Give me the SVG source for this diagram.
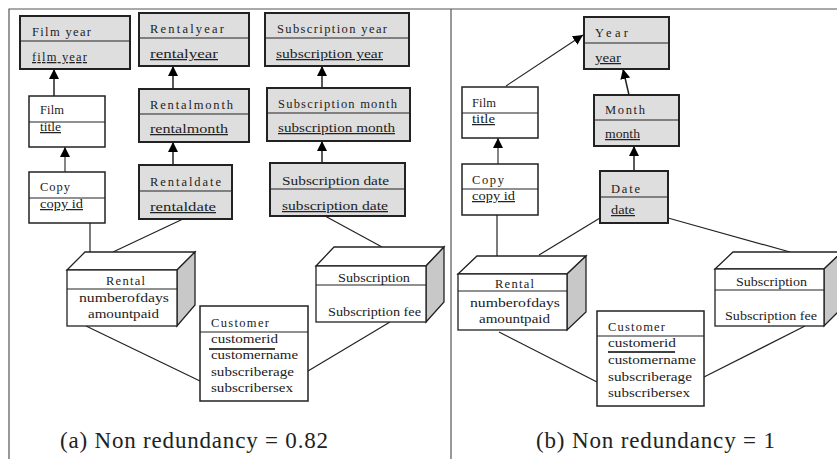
<svg xmlns="http://www.w3.org/2000/svg" width="837" height="459" viewBox="0 0 837 459">
<defs>
<marker id="ah" viewBox="0 0 10 10" refX="10" refY="5" markerWidth="10" markerHeight="11" markerUnits="userSpaceOnUse" orient="auto">
<path d="M0,0 L10,5 L0,10 z" fill="#000"/>
</marker>
<style>
.g{fill:#dedede;stroke:#222;stroke-width:2}
.w{fill:#fff;stroke:#222;stroke-width:1.5}
.dv{stroke:#222;stroke-width:1.2}
.face{fill:#fff;stroke:#222;stroke-width:1.3}
.side{fill:#c8c8c8;stroke:#222;stroke-width:1.3}
.m{font-family:"Liberation Serif",serif;font-size:12.5px;fill:#222}
.s{font-family:"Liberation Serif",serif;font-size:12.5px;fill:#222}
.u{text-decoration:underline}
.cap{font-family:"Liberation Serif",serif;font-size:23px;fill:#222}
.ln{stroke:#222;stroke-width:1.2;fill:none}
.ar{stroke:#222;stroke-width:1.5;fill:none;marker-end:url(#ah)}
.at{stroke:#222;stroke-width:1.1;fill:none;marker-end:url(#ah)}
.fr{stroke:#555;stroke-width:1.2;fill:none}
</style>
</defs>
<rect width="837" height="459" fill="#fff"/>
<g id="frame">
<path class="fr" d="M9,459 V9 H837 M451,9 V459"/>
</g>

<g id="connectors">
<path class="ar" d="M54,96 V69"/>
<path class="at" d="M65,172 V147"/>
<path class="ar" d="M173,89 V66"/>
<path class="ar" d="M173,165 V142"/>
<path class="ar" d="M322,88 V66"/>
<path class="ar" d="M322,163 V141"/>
<path class="ln" d="M90,223 V252"/>
<path class="ln" d="M183,219 L113,252"/>
<path class="ln" d="M325,216 L382,247"/>
<path class="ln" d="M86,326 L200,381"/>
<path class="ln" d="M390,322 L308,371"/>
<path class="at" d="M506,86 L583,35"/>
<path class="ar" d="M629,95 L623,69"/>
<path class="ar" d="M634,171 V146"/>
<path class="at" d="M498,164 V138"/>
<path class="ln" d="M497,215 V256"/>
<path class="ln" d="M539,255 L600,218"/>
<path class="ln" d="M668,218 L790,252"/>
<path class="ln" d="M499,332 L597,382"/>
<path class="ln" d="M805,326 L704,377"/>
</g>

<g id="a-film-year">
<rect class="g" x="20" y="16" width="110" height="53"/>
<line class="dv" x1="20" y1="41" x2="130" y2="41"/>
<text class="m" x="32" y="36" textLength="59" lengthAdjust="spacing">Film year</text>
<text class="m u" x="32" y="61" textLength="55" lengthAdjust="spacing">film year</text>
</g>
<g id="a-rental-year">
<rect class="g" x="139" y="13" width="110" height="53"/>
<line class="dv" x1="139" y1="38" x2="249" y2="38"/>
<text class="m" x="150" y="33" textLength="74" lengthAdjust="spacing">Rentalyear</text>
<text class="s u" x="150" y="58" textLength="68" lengthAdjust="spacingAndGlyphs">rentalyear</text>
</g>
<g id="a-subscription-year">
<rect class="g" x="265" y="13" width="144" height="53"/>
<line class="dv" x1="265" y1="38" x2="409" y2="38"/>
<text class="m" x="277" y="33" textLength="110" lengthAdjust="spacing">Subscription year</text>
<text class="s u" x="276" y="58" textLength="107" lengthAdjust="spacingAndGlyphs">subscription year</text>
</g>
<g id="a-film">
<rect class="w" x="29" y="96" width="76" height="51"/>
<line class="dv" x1="29" y1="122" x2="105" y2="122"/>
<text class="m" x="40" y="114" textLength="24" lengthAdjust="spacing">Film</text>
<text class="s u" x="40" y="131" textLength="21" lengthAdjust="spacingAndGlyphs">title</text>
</g>
<g id="a-rental-month">
<rect class="g" x="139" y="89" width="110" height="53"/>
<line class="dv" x1="139" y1="114" x2="249" y2="114"/>
<text class="m" x="150" y="109" textLength="83" lengthAdjust="spacing">Rentalmonth</text>
<text class="s u" x="150" y="133" textLength="78" lengthAdjust="spacingAndGlyphs">rentalmonth</text>
</g>
<g id="a-subscription-month">
<rect class="g" x="267" y="88" width="143" height="53"/>
<line class="dv" x1="267" y1="113" x2="410" y2="113"/>
<text class="m" x="278" y="108" textLength="119" lengthAdjust="spacing">Subscription month</text>
<text class="s u" x="278" y="132" textLength="117" lengthAdjust="spacingAndGlyphs">subscription month</text>
</g>
<g id="a-copy">
<rect class="w" x="29" y="172" width="76" height="51"/>
<line class="dv" x1="29" y1="198" x2="105" y2="198"/>
<text class="m" x="40" y="191" textLength="30" lengthAdjust="spacing">Copy</text>
<text class="s u" x="40" y="208" textLength="43" lengthAdjust="spacingAndGlyphs">copy id</text>
</g>
<g id="a-rental-date">
<rect class="g" x="139" y="165" width="93" height="54"/>
<line class="dv" x1="139" y1="191" x2="232" y2="191"/>
<text class="m" x="150" y="186" textLength="71" lengthAdjust="spacing">Rentaldate</text>
<text class="s u" x="150" y="211" textLength="66" lengthAdjust="spacingAndGlyphs">rentaldate</text>
</g>
<g id="a-subscription-date">
<rect class="g" x="270" y="163" width="135" height="53"/>
<line class="dv" x1="270" y1="189" x2="405" y2="189"/>
<text class="s" x="282" y="185" textLength="107" lengthAdjust="spacingAndGlyphs">Subscription date</text>
<text class="s u" x="282" y="210" textLength="106" lengthAdjust="spacingAndGlyphs">subscription date</text>
</g>
<g id="a-rental">
<path class="face" d="M67,270 L85,252 H195 L177,270 Z"/>
<path class="side" d="M177,270 L195,252 V305 L177,326 Z"/>
<rect class="face" x="67" y="270" width="110" height="56"/>
<line class="dv" x1="67" y1="289" x2="177" y2="289"/>
<text class="m" x="106" y="285" textLength="39" lengthAdjust="spacing">Rental</text>
<text class="s" x="79" y="302" textLength="90" lengthAdjust="spacingAndGlyphs">numberofdays</text>
<text class="s" x="88" y="318" textLength="71" lengthAdjust="spacingAndGlyphs">amountpaid</text>
</g>
<g id="a-subscription">
<path class="face" d="M316,266 L334,247 H444 L426,266 Z"/>
<path class="side" d="M426,266 L444,247 V302 L426,322 Z"/>
<rect class="face" x="316" y="266" width="110" height="56"/>
<line class="dv" x1="316" y1="285" x2="426" y2="285"/>
<text class="s" x="338" y="282" textLength="72" lengthAdjust="spacingAndGlyphs">Subscription</text>
<text class="s" x="328" y="316" textLength="93" lengthAdjust="spacingAndGlyphs">Subscription fee</text>
</g>
<g id="a-customer">
<rect class="w" x="200" y="306" width="108" height="95"/>
<line class="dv" x1="200" y1="332" x2="308" y2="332"/>
<text class="m" x="211" y="327" textLength="58" lengthAdjust="spacing">Customer</text>
<text class="s" x="211" y="343" textLength="67" lengthAdjust="spacingAndGlyphs">customerid</text>
<line x1="209" y1="349" x2="275" y2="349" stroke="#000" stroke-width="1.3"/>
<text class="s" x="211" y="359" textLength="87" lengthAdjust="spacingAndGlyphs">customername</text>
<text class="s" x="211" y="376" textLength="83" lengthAdjust="spacingAndGlyphs">subscriberage</text>
<text class="s" x="211" y="392" textLength="82" lengthAdjust="spacingAndGlyphs">subscribersex</text>
</g>
<g id="a-caption">
<text class="cap" x="60" y="448" textLength="268" lengthAdjust="spacing">(a) Non redundancy = 0.82</text>
</g>

<g id="b-year">
<rect class="g" x="584" y="17" width="85" height="52"/>
<line class="dv" x1="584" y1="43" x2="669" y2="43"/>
<text class="m" x="595" y="37" textLength="33" lengthAdjust="spacing">Year</text>
<text class="s u" x="595" y="62" textLength="26" lengthAdjust="spacingAndGlyphs">year</text>
</g>
<g id="b-month">
<rect class="g" x="594" y="95" width="85" height="51"/>
<line class="dv" x1="594" y1="120" x2="679" y2="120"/>
<text class="m" x="605" y="114" textLength="40" lengthAdjust="spacing">Month</text>
<text class="s u" x="605" y="138" textLength="35" lengthAdjust="spacingAndGlyphs">month</text>
</g>
<g id="b-date">
<rect class="g" x="600" y="171" width="68" height="52"/>
<line class="dv" x1="600" y1="197" x2="668" y2="197"/>
<text class="m" x="611" y="193" textLength="29" lengthAdjust="spacing">Date</text>
<text class="s u" x="611" y="214" textLength="24" lengthAdjust="spacingAndGlyphs">date</text>
</g>
<g id="b-film">
<rect class="w" x="462" y="87" width="76" height="51"/>
<line class="dv" x1="462" y1="113" x2="538" y2="113"/>
<text class="m" x="472" y="107" textLength="24" lengthAdjust="spacing">Film</text>
<text class="s u" x="472" y="123" textLength="23" lengthAdjust="spacingAndGlyphs">title</text>
</g>
<g id="b-copy">
<rect class="w" x="462" y="164" width="76" height="51"/>
<line class="dv" x1="462" y1="189" x2="538" y2="189"/>
<text class="m" x="472" y="184" textLength="32" lengthAdjust="spacing">Copy</text>
<text class="s u" x="472" y="200" textLength="43" lengthAdjust="spacingAndGlyphs">copy id</text>
</g>
<g id="b-rental">
<path class="face" d="M458,274 L477,256 H586 L567,274 Z"/>
<path class="side" d="M567,274 L586,256 V312 L567,330 Z"/>
<rect class="face" x="458" y="274" width="109" height="56"/>
<line class="dv" x1="458" y1="291" x2="567" y2="291"/>
<text class="m" x="495" y="288" textLength="39" lengthAdjust="spacing">Rental</text>
<text class="s" x="470" y="307" textLength="90" lengthAdjust="spacingAndGlyphs">numberofdays</text>
<text class="s" x="479" y="323" textLength="71" lengthAdjust="spacingAndGlyphs">amountpaid</text>
</g>
<g id="b-subscription">
<path class="face" d="M715,269 L733,252 H842 L824,269 Z"/>
<path class="side" d="M824,269 L842,252 V308 L824,326 Z"/>
<rect class="face" x="715" y="269" width="109" height="57"/>
<line class="dv" x1="715" y1="290" x2="824" y2="290"/>
<text class="s" x="736" y="286" textLength="71" lengthAdjust="spacingAndGlyphs">Subscription</text>
<text class="s" x="725" y="320" textLength="92" lengthAdjust="spacingAndGlyphs">Subscription fee</text>
</g>
<g id="b-customer">
<rect class="w" x="597" y="311" width="107" height="95"/>
<line class="dv" x1="597" y1="336" x2="704" y2="336"/>
<text class="m" x="608" y="331" textLength="57" lengthAdjust="spacing">Customer</text>
<text class="s" x="608" y="347" textLength="68" lengthAdjust="spacingAndGlyphs">customerid</text>
<line x1="608" y1="352" x2="675" y2="352" stroke="#000" stroke-width="1.3"/>
<text class="s" x="608" y="364" textLength="88" lengthAdjust="spacingAndGlyphs">customername</text>
<text class="s" x="608" y="381" textLength="84" lengthAdjust="spacingAndGlyphs">subscriberage</text>
<text class="s" x="608" y="397" textLength="82" lengthAdjust="spacingAndGlyphs">subscribersex</text>
</g>
<g id="b-caption">
<text class="cap" x="536" y="448" textLength="239" lengthAdjust="spacing">(b) Non redundancy = 1</text>
</g>
</svg>
